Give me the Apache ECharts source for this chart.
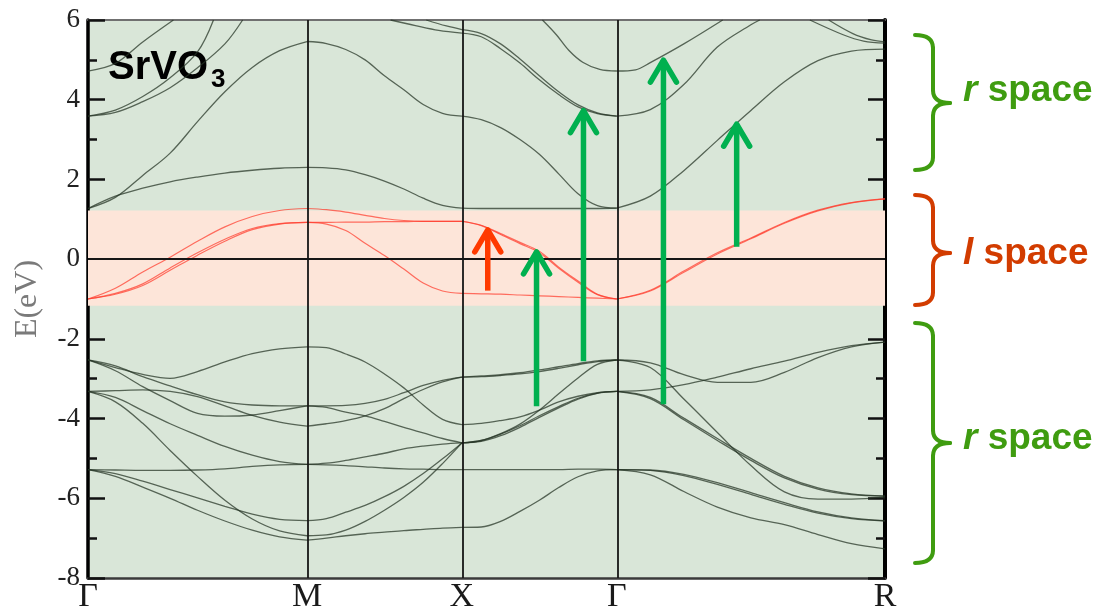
<!DOCTYPE html>
<html>
<head>
<meta charset="utf-8">
<script src="https://cdn.jsdelivr.net/npm/echarts@6/dist/echarts.min.js"></script>
<style>html,body{margin:0;padding:0;background:#fff;}#chart{width:1099px;height:614px;}</style>
</head>
<body>
<div id="chart"></div>
<script>
// High-symmetry path (k in units of 2π/a) and labels
const kNodes = [0, 0.7071, 1.2071, 1.7071, 2.5731];
const kLabels = ['Γ', 'M', 'X', 'Γ', 'R'];
// fractional positions along each segment where energies were read
const tGrid = [0, 0.125, 0.25, 0.375, 0.5, 0.625, 0.75, 0.875, 1];
const yTicks = [-8, -6, -4, -2, 0, 2, 4, 6];
const lSpaceRange = [-1.17, 1.22];

// Γ–M
const gmBlack = [
  [1.27, 1.58, 1.78, 1.94, 2.06, 2.16, 2.23, 2.28, 2.30],
  [1.27, 1.55, 2.10, 2.66, 3.45, 4.20, 4.81, 5.23, 5.46],
  [[0, 3.59], [0.125, 3.74], [0.25, 4.08], [0.375, 4.55], [0.5, 5.20], [0.573, 6.0]],
  [[0, 3.59], [0.125, 3.68], [0.25, 3.95], [0.375, 4.30], [0.5, 4.80], [0.625, 5.40], [0.706, 6.0]],
  [[0, 4.72], [0.125, 4.91], [0.25, 5.45], [0.39, 6.0]],
  [-2.53, -2.72, -2.89, -2.99, -2.82, -2.58, -2.37, -2.25, -2.20],
  [-2.53, -2.68, -2.95, -3.18, -3.40, -3.58, -3.66, -3.68, -3.68],
  [-2.53, -2.80, -3.20, -3.55, -3.87, -3.94, -3.91, -3.80, -3.68],
  [-3.32, -3.30, -3.28, -3.32, -3.45, -3.68, -3.92, -4.09, -4.19],
  [-3.32, -3.47, -3.80, -4.13, -4.42, -4.70, -4.92, -5.08, -5.15],
  [-3.32, -3.58, -4.12, -4.80, -5.45, -6.05, -6.52, -6.82, -6.94],
  [-5.28, -5.29, -5.30, -5.30, -5.29, -5.26, -5.20, -5.16, -5.15],
  [-5.28, -5.38, -5.57, -5.78, -5.99, -6.20, -6.40, -6.53, -6.56],
  [-5.28, -5.45, -5.72, -6.00, -6.30, -6.57, -6.80, -6.97, -7.05]
];
const gmRed = [
  [-1.00, -0.73, -0.32, 0.05, 0.45, 0.81, 1.07, 1.22, 1.27],
  [-1.00, -0.86, -0.62, -0.22, 0.16, 0.50, 0.77, 0.89, 0.92],
  [-1.00, -0.88, -0.66, -0.28, 0.10, 0.45, 0.74, 0.88, 0.92]
];

// M–X
const mxBlack = [
  [5.46, 5.41, 5.26, 5.00, 4.60, 4.25, 3.88, 3.66, 3.59],
  [2.30, 2.29, 2.24, 2.12, 1.96, 1.76, 1.53, 1.35, 1.28],
  [[0.54, 6.0], [0.7, 5.86], [0.85, 5.74], [1, 5.67]],
  [[0.77, 6.0], [0.9, 5.85], [1, 5.76]],
  [-2.20, -2.22, -2.38, -2.58, -2.88, -3.23, -3.66, -4.02, -4.15],
  [-3.68, -3.68, -3.67, -3.62, -3.52, -3.35, -3.17, -3.04, -2.96],
  [-4.19, -4.13, -4.05, -3.93, -3.75, -3.50, -3.27, -3.08, -2.96],
  [-3.68, -3.72, -3.84, -3.93, -4.07, -4.22, -4.36, -4.50, -4.61],
  [-5.15, -5.12, -5.05, -4.96, -4.87, -4.76, -4.69, -4.64, -4.61],
  [-5.15, -5.16, -5.18, -5.21, -5.24, -5.26, -5.27, -5.28, -5.28],
  [-6.56, -6.51, -6.35, -6.18, -5.96, -5.70, -5.38, -5.01, -4.61],
  [-6.94, -6.92, -6.80, -6.58, -6.30, -5.98, -5.60, -5.13, -4.61],
  [-7.05, -7.00, -6.94, -6.89, -6.85, -6.81, -6.78, -6.75, -6.73]
];
const mxRed = [
  [1.27, 1.24, 1.18, 1.10, 1.02, 0.97, 0.95, 0.95, 0.95],
  [0.92, 0.92, 0.93, 0.93, 0.94, 0.94, 0.95, 0.95, 0.95],
  [0.92, 0.88, 0.72, 0.40, 0.09, -0.25, -0.60, -0.80, -0.86]
];

// X–Γ
const xgBlack = [
  [3.59, 3.50, 3.30, 3.00, 2.63, 2.14, 1.64, 1.34, 1.28],
  [1.28, 1.27, 1.27, 1.27, 1.27, 1.27, 1.27, 1.27, 1.28],
  [5.67, 5.58, 5.28, 4.92, 4.50, 4.13, 3.82, 3.65, 3.59],
  [5.76, 5.66, 5.40, 5.02, 4.60, 4.20, 3.87, 3.67, 3.59],
  [[0.52, 6.0], [0.61, 5.63], [0.69, 5.24], [0.78, 4.94], [0.89, 4.76], [1, 4.72]],
  [-2.96, -2.93, -2.90, -2.85, -2.78, -2.70, -2.62, -2.55, -2.53],
  [-2.96, -2.95, -2.92, -2.88, -2.82, -2.74, -2.65, -2.57, -2.53],
  [-4.15, -4.12, -4.05, -3.96, -3.79, -3.58, -3.44, -3.35, -3.32],
  [-4.61, -4.55, -4.39, -4.18, -3.93, -3.70, -3.49, -3.36, -3.32],
  [-4.61, -4.57, -4.43, -4.22, -3.97, -3.73, -3.51, -3.37, -3.32],
  [-4.61, -4.55, -4.38, -4.14, -3.79, -3.38, -2.98, -2.64, -2.53],
  [-5.28, -5.28, -5.28, -5.28, -5.28, -5.28, -5.27, -5.27, -5.28],
  [-6.73, -6.72, -6.58, -6.33, -6.05, -5.73, -5.46, -5.31, -5.28]
];
const xgRed = [
  [0.95, 0.85, 0.64, 0.42, 0.20, -0.20, -0.55, -0.88, -1.00],
  [0.95, 0.84, 0.62, 0.39, 0.16, -0.23, -0.58, -0.89, -1.00],
  [-0.86, -0.87, -0.88, -0.90, -0.92, -0.94, -0.96, -0.98, -1.00]
];

// Γ–R
const grBlack = [
  [[0, 4.72], [0.07, 4.75], [0.125, 4.93], [0.25, 5.40], [0.395, 6.0]],
  [[0, 3.59], [0.125, 3.75], [0.25, 4.38], [0.375, 5.32], [0.5, 5.88], [0.533, 6.0]],
  [1.28, 1.58, 2.22, 2.98, 3.73, 4.45, 4.98, 5.22, 5.27],
  [[0.72, 6.0], [0.844, 5.63], [0.92, 5.47], [1, 5.42]],
  [[0.79, 6.0], [0.88, 5.66], [0.95, 5.50], [1, 5.45]],
  [-2.53, -2.60, -2.90, -3.09, -3.09, -2.84, -2.47, -2.20, -2.08],
  [-3.32, -3.28, -3.15, -2.96, -2.75, -2.56, -2.34, -2.17, -2.08],
  [-2.53, -2.72, -3.51, -4.35, -5.18, -5.84, -6.02, -6.02, -5.97],
  [-3.32, -3.47, -3.99, -4.50, -5.00, -5.45, -5.74, -5.89, -5.94],
  [-3.32, -3.50, -4.03, -4.55, -5.05, -5.49, -5.77, -5.91, -5.95],
  [-5.28, -5.29, -5.40, -5.61, -5.86, -6.11, -6.34, -6.49, -6.56],
  [-5.28, -5.30, -5.43, -5.65, -5.90, -6.15, -6.37, -6.51, -6.57],
  [-5.28, -5.41, -5.83, -6.22, -6.49, -6.66, -6.91, -7.14, -7.27]
];
const grRed = [
  [-1.00, -0.78, -0.30, 0.16, 0.53, 0.92, 1.23, 1.42, 1.51],
  [-1.00, -0.80, -0.33, 0.13, 0.51, 0.90, 1.21, 1.41, 1.51]
];

// transitions: [k, E from, E to]
const greenArrows = [
  [1.4481, -3.69, 0.26],
  [1.5996, -2.56, 3.80],
  [1.8578, -3.64, 5.07],
  [2.0942, 0.31, 3.46]
];
const redArrows = [
  [1.2906, -0.79, 0.81]
];

const segments = [
  { k0: kNodes[0], k1: kNodes[1], black: gmBlack, red: gmRed },
  { k0: kNodes[1], k1: kNodes[2], black: mxBlack, red: mxRed },
  { k0: kNodes[2], k1: kNodes[3], black: xgBlack, red: xgRed },
  { k0: kNodes[3], k1: kNodes[4], black: grBlack, red: grRed }
];

function toPts(band, k0, k1) {
  return band.map((p, i) => Array.isArray(p)
    ? [k0 + p[0] * (k1 - k0), p[1]]
    : [k0 + tGrid[i] * (k1 - k0), p]);
}

const series = [];
series.push({
  type: 'line', data: [], silent: true, z: 1,
  markArea: {
    silent: true,
    itemStyle: { color: '#fde5d9' },
    data: [[{ yAxis: lSpaceRange[0] }, { yAxis: lSpaceRange[1] }]]
  }
});
segments.forEach(s => {
  s.black.forEach(b => series.push({
    type: 'line', data: toPts(b, s.k0, s.k1), smooth: 0.35, symbol: 'none', silent: true, z: 3,
    lineStyle: { color: 'rgba(35,50,35,0.72)', width: 1.3 }
  }));
  s.red.forEach(b => series.push({
    type: 'line', data: toPts(b, s.k0, s.k1), smooth: 0.35, symbol: 'none', silent: true, z: 3,
    lineStyle: { color: 'rgba(255,60,45,0.72)', width: 1.2 }
  }));
});
series.push({
  type: 'line', data: [], silent: true, z: 4,
  markLine: {
    silent: true, symbol: ['none', 'none'], label: { show: false },
    lineStyle: { color: '#161616', width: 1.8, type: 'solid' },
    data: kNodes.slice(1, 4).map(k => ({ xAxis: k })).concat([{ yAxis: 0 }])
  }
});

function arrowSeries(data, color, w) {
  return {
    type: 'custom', data: data, z: 10, silent: true,
    encode: { x: 0, y: 1 },
    renderItem: function (params, api) {
      const p0 = api.coord([api.value(0), api.value(1)]);
      const p1 = api.coord([api.value(0), api.value(2)]);
      return {
        type: 'group', children: [
          { type: 'line', shape: { x1: p0[0], y1: p0[1], x2: p1[0], y2: p1[1] + 3 },
            style: { stroke: color, lineWidth: w, lineCap: 'butt' } },
          { type: 'polyline', shape: { points: [[p1[0] - 13, p1[1] + 25], [p1[0], p1[1] + 3], [p1[0] + 13, p1[1] + 25]] },
            style: { stroke: color, lineWidth: w, lineCap: 'round', lineJoin: 'round', fill: null } }
        ]
      };
    }
  };
}
series.push(arrowSeries(greenArrows, '#00b04f', 5.5));
series.push(arrowSeries(redArrows, '#ff3a00', 5.5));

function brace(yT, yM, yB, color) {
  const x0 = 915, x1 = 933, xt = 950, r = 13;
  const st = { stroke: color, lineWidth: 4, fill: null, lineCap: 'round' };
  return {
    type: 'group', children: [
      { type: 'bezierCurve', shape: { x1: x0, y1: yT, cpx1: x1, cpy1: yT, x2: x1, y2: yT + r }, style: st },
      { type: 'line', shape: { x1: x1, y1: yT + r, x2: x1, y2: yM - r }, style: st },
      { type: 'bezierCurve', shape: { x1: x1, y1: yM - r, cpx1: x1, cpy1: yM, x2: xt, y2: yM }, style: st },
      { type: 'bezierCurve', shape: { x1: xt, y1: yM, cpx1: x1, cpy1: yM, x2: x1, y2: yM + r }, style: st },
      { type: 'line', shape: { x1: x1, y1: yM + r, x2: x1, y2: yB - r }, style: st },
      { type: 'bezierCurve', shape: { x1: x1, y1: yB - r, cpx1: x1, cpy1: yB, x2: x0, y2: yB }, style: st }
    ]
  };
}
function spaceLabel(letter, y, color) {
  return {
    type: 'text', x: 963, y: y,
    style: {
      text: '{i|' + letter + ' }{b|space}', verticalAlign: 'middle', align: 'left',
      rich: {
        i: { fontFamily: 'Liberation Sans', fontWeight: 'bold', fontStyle: 'italic', fontSize: 37, fill: color },
        b: { fontFamily: 'Liberation Sans', fontWeight: 'bold', fontSize: 37, fill: color }
      }
    }
  };
}
const GREEN = '#3f9c10', RED = '#d23c00';
const SERIF = 'Liberation Serif';

const chart = echarts.init(document.getElementById('chart'));
chart.setOption({
  animation: false,
  backgroundColor: '#ffffff',
  grid: { left: 88, right: 214, top: 20, bottom: 33, show: true, backgroundColor: '#d9e6d8', borderWidth: 0 },
  xAxis: [
    {
      type: 'value', min: kNodes[0], max: kNodes[4], position: 'bottom',
      axisLine: { show: true, onZero: false, lineStyle: { color: '#3a3a3a', width: 2.5 } },
      axisTick: { show: false }, splitLine: { show: false },
      axisLabel: {
        customValues: kNodes,
        formatter: function (v) {
          let best = 0;
          kNodes.forEach((k, i) => { if (Math.abs(k - v) < Math.abs(kNodes[best] - v)) best = i; });
          return kLabels[best];
        },
        fontFamily: SERIF, fontSize: 34, color: '#1a1a1a', margin: 2
      }
    },
    {
      type: 'value', min: kNodes[0], max: kNodes[4], position: 'top',
      axisLine: { show: true, onZero: false, lineStyle: { color: '#707070', width: 2 } },
      axisTick: { show: false }, axisLabel: { show: false }, splitLine: { show: false }
    }
  ],
  yAxis: [
    {
      type: 'value', min: yTicks[0], max: yTicks[yTicks.length - 1], interval: 2, position: 'left',
      name: 'E(eV)', nameLocation: 'middle', nameGap: 44, nameRotate: 90,
      nameTextStyle: { fontFamily: SERIF, fontSize: 32, color: '#7a7a7a' },
      axisLine: { show: true, onZero: false, lineStyle: { color: '#000', width: 3.5 } },
      axisTick: { show: true, inside: true, length: 17, lineStyle: { color: '#111', width: 2.5 } },
      minorTick: { show: true, splitNumber: 2, length: 9, lineStyle: { color: '#111', width: 2.5 } },
      axisLabel: { fontFamily: SERIF, fontSize: 27, color: '#222', margin: 8 },
      splitLine: { show: false }
    },
    {
      type: 'value', min: yTicks[0], max: yTicks[yTicks.length - 1], interval: 2, position: 'right',
      axisLine: { show: true, onZero: false, lineStyle: { color: '#000', width: 4 } },
      axisTick: { show: true, inside: true, length: 17, lineStyle: { color: '#111', width: 2.5 } },
      minorTick: { show: true, splitNumber: 2, length: 9, lineStyle: { color: '#111', width: 2.5 } },
      axisLabel: { show: false }, splitLine: { show: false }
    }
  ],
  series: series,
  graphic: [
    { type: 'text', x: 108, y: 48, style: { text: 'SrVO', font: 'bold 40px "Liberation Sans"', fill: '#000', verticalAlign: 'top' } },
    { type: 'text', x: 211, y: 67, style: { text: '3', font: 'bold 26px "Liberation Sans"', fill: '#000', verticalAlign: 'top' } },
    brace(35, 103, 170, GREEN),
    brace(195, 253, 305, RED),
    brace(323, 443, 563, GREEN),
    spaceLabel('r', 91, GREEN),
    spaceLabel('l', 254, RED),
    spaceLabel('r', 439, GREEN)
  ]
});
</script>
</body>
</html>
